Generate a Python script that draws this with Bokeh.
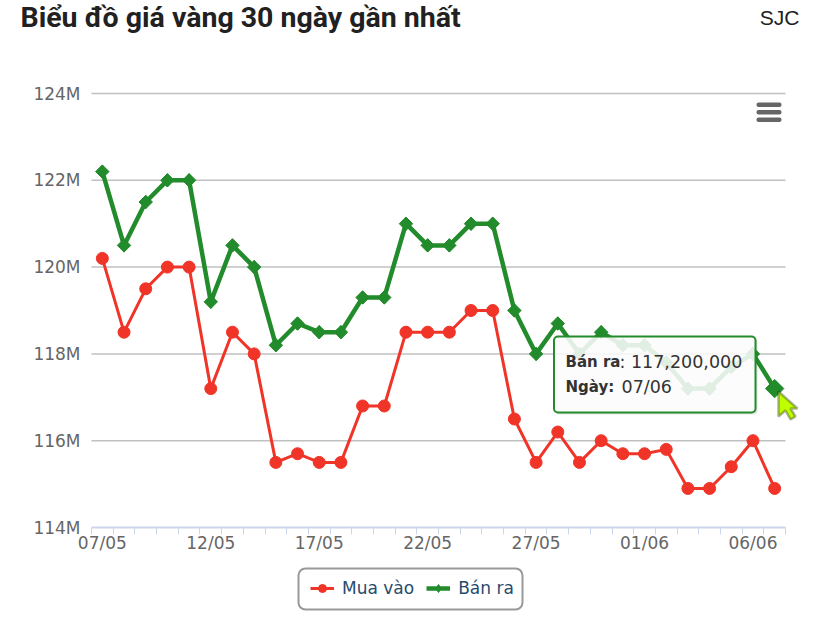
import math
from bokeh.plotting import figure
from bokeh.embed import file_html
from bokeh.resources import INLINE
from bokeh.models import (Range1d, FixedTicker, Label, BoxAnnotation, PolyAnnotation,
                          Legend, LegendItem, LinearAxis)

dates = ["07/05","08/05","09/05","10/05","11/05","12/05","13/05","14/05","15/05","16/05",
         "17/05","18/05","19/05","20/05","21/05","22/05","23/05","24/05","25/05","26/05",
         "27/05","28/05","29/05","30/05","31/05","01/06","02/06","03/06","04/06","05/06",
         "06/06","07/06"]
mua_vao = [120.2,118.5,119.5,120.0,120.0,117.2,118.5,118.0,115.5,115.7,
           115.5,115.5,116.8,116.8,118.5,118.5,118.5,119.0,119.0,116.5,
           115.5,116.2,115.5,116.0,115.7,115.7,115.8,114.9,114.9,115.4,
           116.0,114.9]
ban_ra = [122.2,120.5,121.5,122.0,122.0,119.2,120.5,120.0,118.2,118.7,
          118.5,118.5,119.3,119.3,121.0,120.5,120.5,121.0,121.0,119.0,
          118.0,118.7,118.0,118.5,118.2,118.2,117.8,117.2,117.2,117.7,
          118.0,117.2]
y_ticks = [114,116,118,120,122,124]

RED = "#f03428"
GREEN = "#228b2b"
idx = list(range(len(dates)))

W, H = 833, 632
# The drawing frame fills the whole canvas so that nothing outside the plot area is clipped.
PL, PR, PT, PB = 91, 785, 93, 527
X0, X1, Y0, Y1 = -0.5, 31.5, 114, 124
ux = (PR - PL) / (X1 - X0)
uy = (PB - PT) / (Y1 - Y0)
x_range = Range1d(X0 - PL / ux, X1 + (W - PR) / ux)
y_range = Range1d(Y0 - (H - PB) / uy, Y1 + PT / uy)

p = figure(width=W, height=H, output_backend="svg", toolbar_location=None,
           x_range=x_range, y_range=y_range, x_axis_location=None, y_axis_location=None,
           min_border=0, min_border_left=0, min_border_right=0, min_border_top=0, min_border_bottom=0,
           background_fill_color="white", border_fill_color="white", outline_line_color=None)

TICK_FONT = "DejaVu Sans"
p.xgrid.visible = False
p.ygrid.visible = False
grid_y = y_ticks[1:]
p.segment([X0] * len(grid_y), grid_y, [X1] * len(grid_y), grid_y,
          line_color="#c0c0c0", line_width=1.5, level="underlay")

ax = LinearAxis(fixed_location=Y0, bounds=(X0, X1))
ax.ticker = FixedTicker(ticks=idx[::5], minor_ticks=[i - 0.5 for i in idx] + [31.5])
ax.major_label_overrides = {i: dates[i] for i in idx[::5]}
ax.major_tick_line_color = None
ax.major_tick_out = 0
ax.major_tick_in = 0
ax.minor_tick_line_color = "#ccd6eb"
ax.minor_tick_line_width = 1
ax.minor_tick_out = 7
ax.minor_tick_in = 0
ax.axis_line_color = "#ccd6eb"
ax.axis_line_width = 2
ax.major_label_text_color = "#666666"
ax.major_label_text_font = TICK_FONT
ax.major_label_text_font_size = "17px"
ax.major_label_standoff = -2
p.add_layout(ax, "below")

ay = LinearAxis(fixed_location=X0, bounds=(Y0, Y1))
ay.ticker = FixedTicker(ticks=y_ticks)
ay.major_label_overrides = {v: f"{v}M" for v in y_ticks}
ay.axis_line_color = None
ay.major_tick_line_color = None
ay.minor_tick_line_color = None
ay.major_label_text_color = "#666666"
ay.major_label_text_font = TICK_FONT
ay.major_label_text_font_size = "17px"
ay.major_label_standoff = 5
p.add_layout(ay, "left")

l1 = p.line(idx, mua_vao, line_color=RED, line_width=3)
s1 = p.scatter(idx, mua_vao, marker="circle", size=12, fill_color=RED, line_color=RED)
l2 = p.line(idx, ban_ra, line_color=GREEN, line_width=4.5)
s_key = p.scatter(idx, ban_ra, marker="diamond", size=13, fill_color=GREEN, line_color=GREEN)
s2 = p.scatter(idx[:-1], ban_ra[:-1], marker="square", angle=math.pi / 4, size=9.5,
               fill_color=GREEN, line_color=GREEN)
s3 = p.scatter(idx[-1:], ban_ra[-1:], marker="square", angle=math.pi / 4, size=13,
               fill_color=GREEN, line_color=GREEN)

def box(l, t, r, b, **kw):
    a = BoxAnnotation(left=l, right=r, top=t, bottom=b,
                      left_units="canvas", right_units="canvas", top_units="canvas", bottom_units="canvas",
                      level="overlay", editable=False, **kw)
    p.add_layout(a)
    return a

def text(x, y, s, font, size, color, style="normal", align="left"):
    p.add_layout(Label(x=x, y=y, x_units="canvas", y_units="canvas", text=s, text_font=font,
                       text_font_size=size, text_color=color, text_font_style=style,
                       text_align=align, text_baseline="alphabetic", level="overlay"))

# heading
text(20, 17, "Biểu đồ giá vàng 30 ngày gần nhất", "Roboto", "28.5px", "#212121", "bold")
text(799, 17, "SJC", "Liberation Sans", "21px", "#212121", align="right")

# export menu icon
for top in (102, 109.5, 117):
    box(756, top, 781, top + 4.5, fill_color="#666666", fill_alpha=1, line_color=None, border_radius=2)

# tooltip
box(555, 338, 757, 414, fill_color="#000000", fill_alpha=0.10, line_color=None, border_radius=4)
box(553.5, 336, 755, 412, fill_color="#ffffff", fill_alpha=0.87, line_color=GREEN, line_width=2, line_alpha=1, border_radius=4)
text(565, 361, "Bán ra", TICK_FONT, "15px", "#333333", "bold")
text(619, 361, ": 117,200,000", TICK_FONT, "17.5px", "#333333")
text(565, 386, "Ngày:", TICK_FONT, "15px", "#333333", "bold")
text(621, 386, "07/06", TICK_FONT, "17.5px", "#333333")

# mouse cursor
p.add_layout(PolyAnnotation(
    xs=[778, 778, 785, 790, 795, 790, 797],
    ys=[391, 416, 410, 419, 416, 408, 408],
    xs_units="canvas", ys_units="canvas", fill_color="#bfff00", fill_alpha=1,
    line_color="#000000", line_width=2.5, level="overlay", editable=False))

# legend frame + legend
box(298, 568, 522, 609, fill_color="#ffffff", fill_alpha=0, line_color="#999999", line_width=2, line_alpha=1, border_radius=7)
legend = Legend(items=[LegendItem(label="Mua vào", renderers=[l1, s1]),
                       LegendItem(label="Bán ra", renderers=[l2, s_key])],
                orientation="horizontal", location=(310, 34), border_line_color=None,
                background_fill_alpha=0, margin=0, padding=0, spacing=12,
                glyph_width=24, glyph_height=20, label_standoff=8,
                label_text_font=TICK_FONT, label_text_font_size="17px", label_text_color="#274b6d")
p.add_layout(legend, "center")

open("out.html", "w").write(file_html(p, INLINE))
